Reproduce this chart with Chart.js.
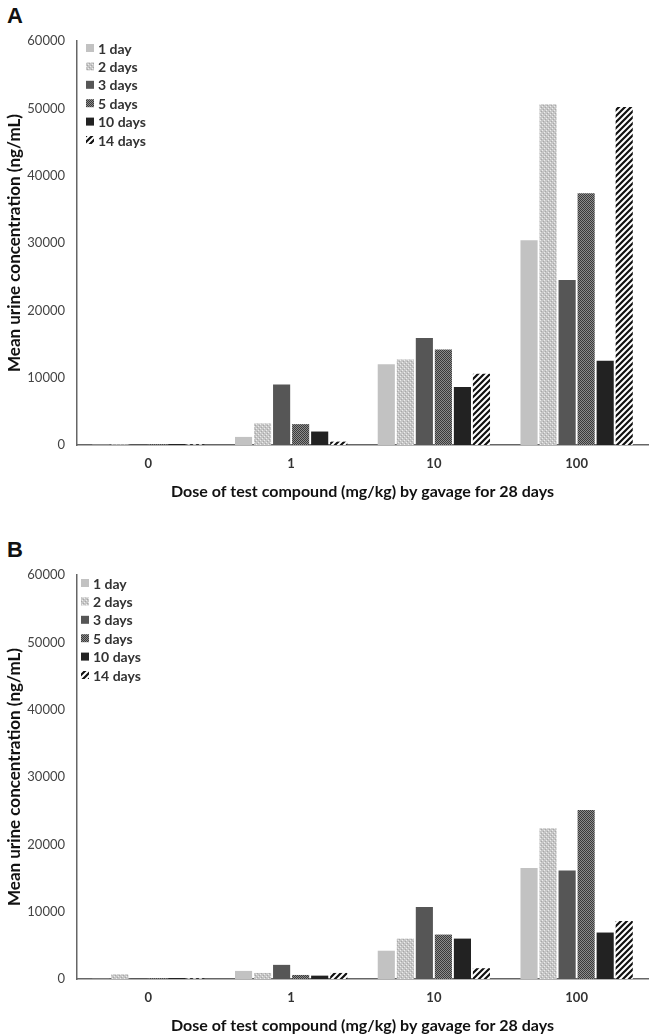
<!DOCTYPE html>
<html>
<head>
<meta charset="utf-8">
<script src="https://cdn.jsdelivr.net/npm/chart.js@4.4.0/dist/chart.umd.min.js"></script>
<style>
  body { margin: 0; background: #fff; }
  .panel { position: absolute; left: 0; width: 649px; height: 501px; }
  .tag { position: absolute; left: 7px; font: bold 22px "Liberation Sans", Arial, sans-serif; color: #111; }
</style>
</head>
<body>
<div class="tag" style="top:3px">A</div>
<div class="panel" style="top:0px"><canvas id="chartA"></canvas></div>
<div class="tag" style="top:537px">B</div>
<div class="panel" style="top:534px"><canvas id="chartB"></canvas></div>

<script>
// doses on the x axis
const doses = ["0", "1", "10", "100"];
const seriesNames = ["1 day", "2 days", "3 days", "5 days", "10 days", "14 days"];
const yTicks = [0, 10000, 20000, 30000, 40000, 50000, 60000];

// panel A
const a1day = [60, 1200, 12000, 30400];
const a2days = [100, 3200, 12700, 50600];
const a3days = [150, 9000, 15900, 24500];
const a5days = [100, 3100, 14200, 37400];
const a10days = [150, 2000, 8600, 12500];
const a14days = [100, 500, 10600, 50200];

// panel B
const b1day = [30, 1200, 4200, 16500];
const b2days = [700, 900, 6000, 22400];
const b3days = [120, 2100, 10700, 16100];
const b5days = [100, 600, 6600, 25100];
const b10days = [150, 500, 6000, 6900];
const b14days = [100, 900, 1600, 8600];

// fill patterns
function makeTile(w, h, draw) {
  const c = document.createElement("canvas");
  c.width = w;
  c.height = h;
  draw(c.getContext("2d"));
  return document.createElement("canvas").getContext("2d").createPattern(c, "repeat");
}

const speckleLight = makeTile(4, 4, (ctx) => {
  ctx.fillStyle = "#c6c6c6";
  ctx.fillRect(0, 0, 4, 4);
  ctx.fillStyle = "#ececec";
  ctx.fillRect(0, 0, 1, 1);
  ctx.fillRect(2, 2, 1, 1);
  ctx.fillStyle = "#a8a8a8";
  ctx.fillRect(1, 3, 1, 1);
  ctx.fillRect(3, 1, 1, 1);
});

const hatchDark = makeTile(2, 2, (ctx) => {
  ctx.fillStyle = "#8c8c8c";
  ctx.fillRect(0, 0, 2, 2);
  ctx.fillStyle = "#3a3a3a";
  ctx.fillRect(0, 0, 1, 1);
  ctx.fillRect(1, 1, 1, 1);
});

const stripes = makeTile(6, 6, (ctx) => {
  ctx.fillStyle = "#fff";
  ctx.fillRect(0, 0, 6, 6);
  ctx.strokeStyle = "#111";
  ctx.lineWidth = 2.2;
  ctx.beginPath();
  ctx.moveTo(-1, 7); ctx.lineTo(7, -1);
  ctx.moveTo(-4, 4); ctx.lineTo(4, -4);
  ctx.moveTo(2, 10); ctx.lineTo(10, 2);
  ctx.stroke();
});

const fills = ["#c2c2c2", speckleLight, "#565656", hatchDark, "#222222", stripes];

// legend drawn inside the plot area, top left
const innerLegend = {
  id: "innerLegend",
  afterDraw(chart, args, opts) {
    const ctx = chart.ctx;
    const area = chart.chartArea;
    ctx.save();
    ctx.font = "bold 14px Lato";
    ctx.textBaseline = "middle";
    chart.data.datasets.forEach((ds, i) => {
      const x = area.left + opts.dx;
      const y = area.top + opts.dy + i * 18.4;
      ctx.fillStyle = ds.backgroundColor;
      ctx.fillRect(x, y - 4, 8, 8);
      ctx.fillStyle = "#333";
      ctx.fillText(ds.label, x + 12, y + 1);
    });
    ctx.restore();
  },
};

function buildChart(id, values, legendPos) {
  const datasets = values.map((v, i) => ({
    label: seriesNames[i],
    data: v,
    backgroundColor: fills[i],
    borderWidth: 0,
  }));

  return new Chart(id, {
    type: "bar",
    data: { labels: doses, datasets: datasets },
    plugins: [innerLegend],
    options: {
      responsive: true,
      maintainAspectRatio: false,
      animation: false,
      layout: { padding: { top: 41, right: 1, left: 0, bottom: 0 } },
      plugins: {
        legend: { display: false },
        tooltip: { enabled: false },
        innerLegend: legendPos,
      },
      scales: {
        x: {
          grid: { display: false, drawTicks: false },
          border: { display: true, color: "#666", width: 1.5 },
          ticks: { padding: 11, color: "#333", font: { family: "Lato", size: 13, weight: "bold" } },
          title: {
            display: true,
            text: "Dose of test compound (mg/kg) by gavage for 28 days",
            color: "#111",
            font: { family: "Lato", size: 16, weight: "bold" },
            padding: { top: 0, bottom: 0 },
          },
          afterFit: (scale) => { scale.height = 56; },
        },
        y: {
          min: 0,
          max: 60000,
          afterBuildTicks: (scale) => { scale.ticks = yTicks.map((v) => ({ value: v })); },
          grid: { display: false, drawTicks: false },
          border: { display: true, color: "#666", width: 1.5 },
          ticks: {
            padding: 12,
            color: "#444",
            font: { family: "Lato", size: 13 },
            callback: (v) => String(v),
          },
          title: {
            display: true,
            text: "Mean urine concentration (ng/mL)",
            color: "#111",
            font: { family: "Lato", size: 17, weight: "bold" },
            padding: { top: 4, bottom: 0 },
          },
          afterFit: (scale) => { scale.width = 77; },
        },
      },
    },
  });
}

const chartA = buildChart("chartA", [a1day, a2days, a3days, a5days, a10days, a14days], { dx: 9, dy: 7 });
const chartB = buildChart("chartB", [b1day, b2days, b3days, b5days, b10days, b14days], { dx: 4, dy: 8 });
</script>
</body>
</html>
